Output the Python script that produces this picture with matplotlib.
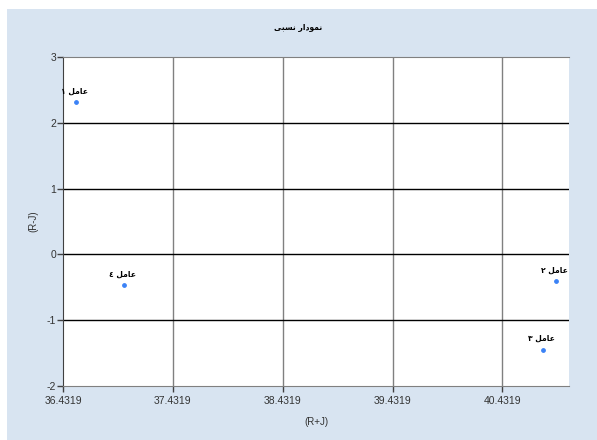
import matplotlib.pyplot as plt
from matplotlib.patches import Rectangle

# data
x_vals = [36.55, 40.917, 40.799, 36.986]
y_vals = [2.31, -0.41, -1.45, -0.467]
# point labels, Persian "عامل n" pre-shaped into visual order (matplotlib has no bidi)
pt_labels = ['\u06f1 \ufede\ufee3\ufe8e\ufecb',
             '\u06f2 \ufede\ufee3\ufe8e\ufecb',
             '\u06f3 \ufede\ufee3\ufe8e\ufecb',
             '\u0664 \ufede\ufee3\ufe8e\ufecb']
# "نمودار نسبی"
title = '\ufef0\ufe92\ufeb4\ufee7 \ufead\ufe8d\ufea9\ufeee\ufee4\ufee7'
x_ticks = [36.4319, 37.4319, 38.4319, 39.4319, 40.4319]
y_ticks = [-2, -1, 0, 1, 2, 3]

plt.rcParams['font.family'] = ['Liberation Sans', 'DejaVu Sans']
plt.rcParams['axes.unicode_minus'] = False
bg = '#d8e4f1'

fig = plt.figure(figsize=(5.97, 4.40), dpi=100)
fig.patch.set_facecolor('white')
fig.patches.append(Rectangle((7/597, 0), 1, 1 - 9/440, transform=fig.transFigure,
                             facecolor=bg, edgecolor='none', zorder=-10))

ax = fig.add_axes([63/597, 1 - 386/440, (569 - 63)/597, (386 - 57)/440])
ax.set_facecolor('white')
ax.scatter(x_vals, y_vals, s=6, color='#3b82f6', zorder=3)
for x, y, t in zip(x_vals, y_vals, pt_labels):
    ax.annotate(t, (x, y), xytext=(-1, 5), textcoords='offset points',
                ha='center', va='bottom', fontsize=5.5, fontweight='bold',
                family=['DejaVu Sans'])

ax.set_xlim(36.4319, 41.038)
ax.set_ylim(-2, 3)
ax.set_xticks(x_ticks)
ax.set_xticklabels(['%.4f' % v for v in x_ticks])
ax.set_yticks(y_ticks)
ax.tick_params(labelsize=7.5, length=4, width=1, color='#404040',
               labelcolor='#333333', pad=1)
ax.tick_params(axis='x', pad=3)

for v in x_ticks[1:]:
    ax.axvline(v, color='#808080', lw=1, zorder=1)
for v in y_ticks[1:-1]:
    ax.axhline(v, color='black', lw=1, zorder=1)

ax.spines['right'].set_visible(False)
ax.spines['top'].set_color('#808080')
ax.spines['bottom'].set_color('#808080')
ax.spines['left'].set_color('#404040')

fig.text(0.5, 1 - 27/440, title, ha='center', va='center', fontsize=5.5,
         fontweight='bold', family=['DejaVu Sans'])
ax.set_xlabel('(R+J)', fontsize=7, labelpad=8, color='#333333')
ax.set_ylabel('(R-J)', fontsize=7, labelpad=6, color='#333333')

plt.savefig('out.png', dpi=100, facecolor=fig.get_facecolor())
